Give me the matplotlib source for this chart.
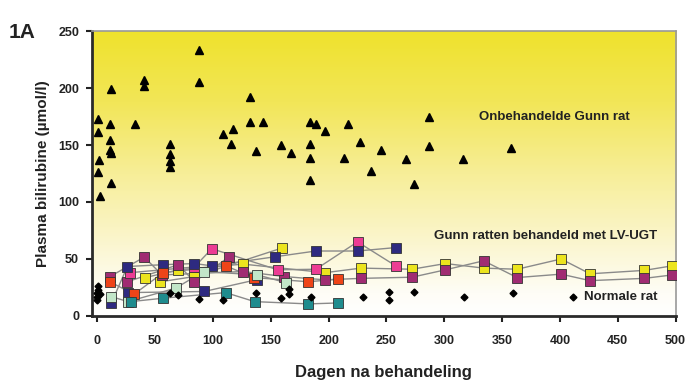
import numpy as np
import matplotlib
matplotlib.use("Agg")
import matplotlib.pyplot as plt
from matplotlib.colors import LinearSegmentedColormap

plt.rcParams['font.family'] = ['Liberation Sans', 'DejaVu Sans']
plt.rcParams['font.weight'] = 'bold'

# ---- Data ----
untreated_days = [1, 1, 1.5, 1, 2, 12, 11, 11, 11, 12, 12, 32.5, 40, 40, 63, 63, 63, 63,
                  88, 88, 109, 117, 115.5, 132, 132, 137, 143, 159, 167.5, 183.5, 183.5,
                  183.5, 183.5, 189.5, 197, 213.5, 216.5, 227, 237, 245, 267, 274, 287, 287,
                  316.5, 358]
untreated_vals = [173, 161, 137, 126, 105, 199.5, 168, 154, 146, 142.6, 117, 168, 207, 202,
                  150.5, 142, 136, 131, 233.5, 205, 160, 164, 151, 192.5, 170, 144.6, 170,
                  149.6, 142.6, 170, 151, 139, 119, 168, 162, 139, 168, 153, 127.6, 145.5,
                  138, 116, 175, 149, 138, 147.6]

normal_days = [0, 0, 0, 1, 1, 2, 63, 70, 88, 109, 137, 159, 166, 166, 185, 230, 252, 252,
               274, 317, 359]
normal_vals = [14, 17, 20, 23, 26, 19, 20, 18.5, 14.7, 14, 20, 16, 23.5, 19, 17, 17, 21.4,
               14, 21.4, 17, 20]

yellow_long_days = [41.5, 70, 126, 197, 228, 272, 301, 334, 363, 401, 426, 473, 497]
yellow_long_vals = [33.7, 40.5, 45.5, 38, 42, 41, 46, 42, 41, 50, 37, 40, 44]
yellow2_days = [54.6, 84, 159.6]
yellow2_vals = [30, 34.6, 59.6]
magenta_long_days = [11, 40.6, 56, 126, 161.6, 197, 228, 272, 301, 334, 363, 401, 426, 473, 497]
magenta_long_vals = [34.6, 51.6, 36, 39, 34.6, 31.7, 33, 34, 40.5, 48.4, 33.7, 36.7, 31, 33, 36]
magenta2_days = [26, 70, 84, 113.5]
magenta2_vals = [30, 45, 30, 51.6]
pink_days = [28.5, 84, 99, 156, 189, 225, 258]
pink_vals = [38, 43, 59, 40.5, 41, 65, 44]
blue1_days = [12, 26, 57, 84, 99, 154, 189, 225, 258]
blue1_vals = [11, 43.4, 45, 46, 44, 52, 57, 57, 60]
blue2_days = [26.5, 92.5, 138.5]
blue2_vals = [20.5, 21.5, 32]
red_days = [11, 31.7, 57, 111, 135.5, 182.5, 207.7]
red_vals = [30, 19, 38, 44, 33.7, 30, 32.3]
lightgreen_days = [12, 26.5, 67.7, 92, 138.5, 163]
lightgreen_vals = [17, 12.6, 24.4, 39, 36, 29.3]
teal_days = [29, 57, 111, 136, 182.5, 207.7]
teal_vals = [12.6, 15.6, 20.5, 12.6, 10.6, 11.4]

x_ticks = [0, 50, 100, 150, 200, 250, 300, 350, 400, 450, 500]
y_ticks = [0, 50, 100, 150, 200, 250]

treated = [
    (yellow_long_days, yellow_long_vals, '#ECE41E'),
    (yellow2_days, yellow2_vals, '#ECE41E'),
    (magenta_long_days, magenta_long_vals, '#A02C72'),
    (magenta2_days, magenta2_vals, '#A02C72'),
    (pink_days, pink_vals, '#EC3C94'),
    (blue1_days, blue1_vals, '#2E2A80'),
    (blue2_days, blue2_vals, '#2E2A80'),
    (red_days, red_vals, '#EE4418'),
    (lightgreen_days, lightgreen_vals, '#C2E6C8'),
    (teal_days, teal_vals, '#1F8C8E'),
]

fig = plt.figure(figsize=(6.88, 3.83), dpi=100)
ax = fig.add_axes([0.133, 0.175, 0.849, 0.744])

# gradient background
cmap = LinearSegmentedColormap.from_list('bg', [
    (0.0, '#FFFFFF'), (0.08, '#FEFDF6'), (0.25, '#FBF6D0'),
    (0.5, '#F7EE98'), (0.75, '#F2E658'), (1.0, '#EFE22C')])
grad = np.linspace(0, 1, 256).reshape(-1, 1)
ax.imshow(grad, aspect='auto', cmap=cmap, origin='lower',
          extent=[0, 1, 0, 1], transform=ax.transAxes, zorder=0)

for d, v, c in treated:
    ax.plot(d, v, '-', color='#8A8A8A', lw=1.0, zorder=2)
for d, v, c in treated:
    ax.plot(d, v, 's', color=c, mec='#333333', mew=0.6, ms=6.5, ls='none', zorder=3)

ax.plot(untreated_days, untreated_vals, '^', color='black', ms=6, ls='none', zorder=4)
ax.plot(normal_days, normal_vals, 'D', color='black', ms=3.5, ls='none', zorder=4)

ax.set_xlim(-5, 500)
ax.set_ylim(0, 250)
ax.set_xticks(x_ticks)
ax.set_yticks(y_ticks)
ax.tick_params(axis='both', direction='out', length=4, width=1.5, labelsize=9, colors='#222222')
for lab in ax.get_xticklabels() + ax.get_yticklabels():
    lab.set_fontweight('bold')
ax.tick_params(axis='x', pad=10)
ax.tick_params(axis='y', pad=5)

for s in ['left', 'bottom']:
    ax.spines[s].set_color('#2a2a2a')
    ax.spines[s].set_linewidth(2)
for s in ['top', 'right']:
    ax.spines[s].set_color('#999999')
    ax.spines[s].set_linewidth(1.2)

ax.text(330, 175, 'Onbehandelde Gunn rat', fontsize=9.5, fontweight='bold',
        va='center', ha='left', color='#222222', zorder=5)
ax.text(291, 70.4, 'Gunn ratten behandeld met LV-UGT', fontsize=9.5, fontweight='bold',
        va='center', ha='left', color='#222222', zorder=5)
ax.plot([411], [16.7], 'D', color='black', ms=3.5, zorder=5)
ax.text(421, 16.7, 'Normale rat', fontsize=9.5, fontweight='bold',
        va='center', ha='left', color='#222222', zorder=5)

ax.set_xlabel('Dagen na behandeling', fontsize=12, fontweight='bold', labelpad=13, color='#222222')
ax.set_ylabel('Plasma bilirubine (µmol/l)', fontsize=11, fontweight='bold', labelpad=6, color='#222222')
fig.text(0.013, 0.9, '1A', fontsize=15, fontweight='bold', color='#222222')

fig.savefig('out.png', dpi=100)
